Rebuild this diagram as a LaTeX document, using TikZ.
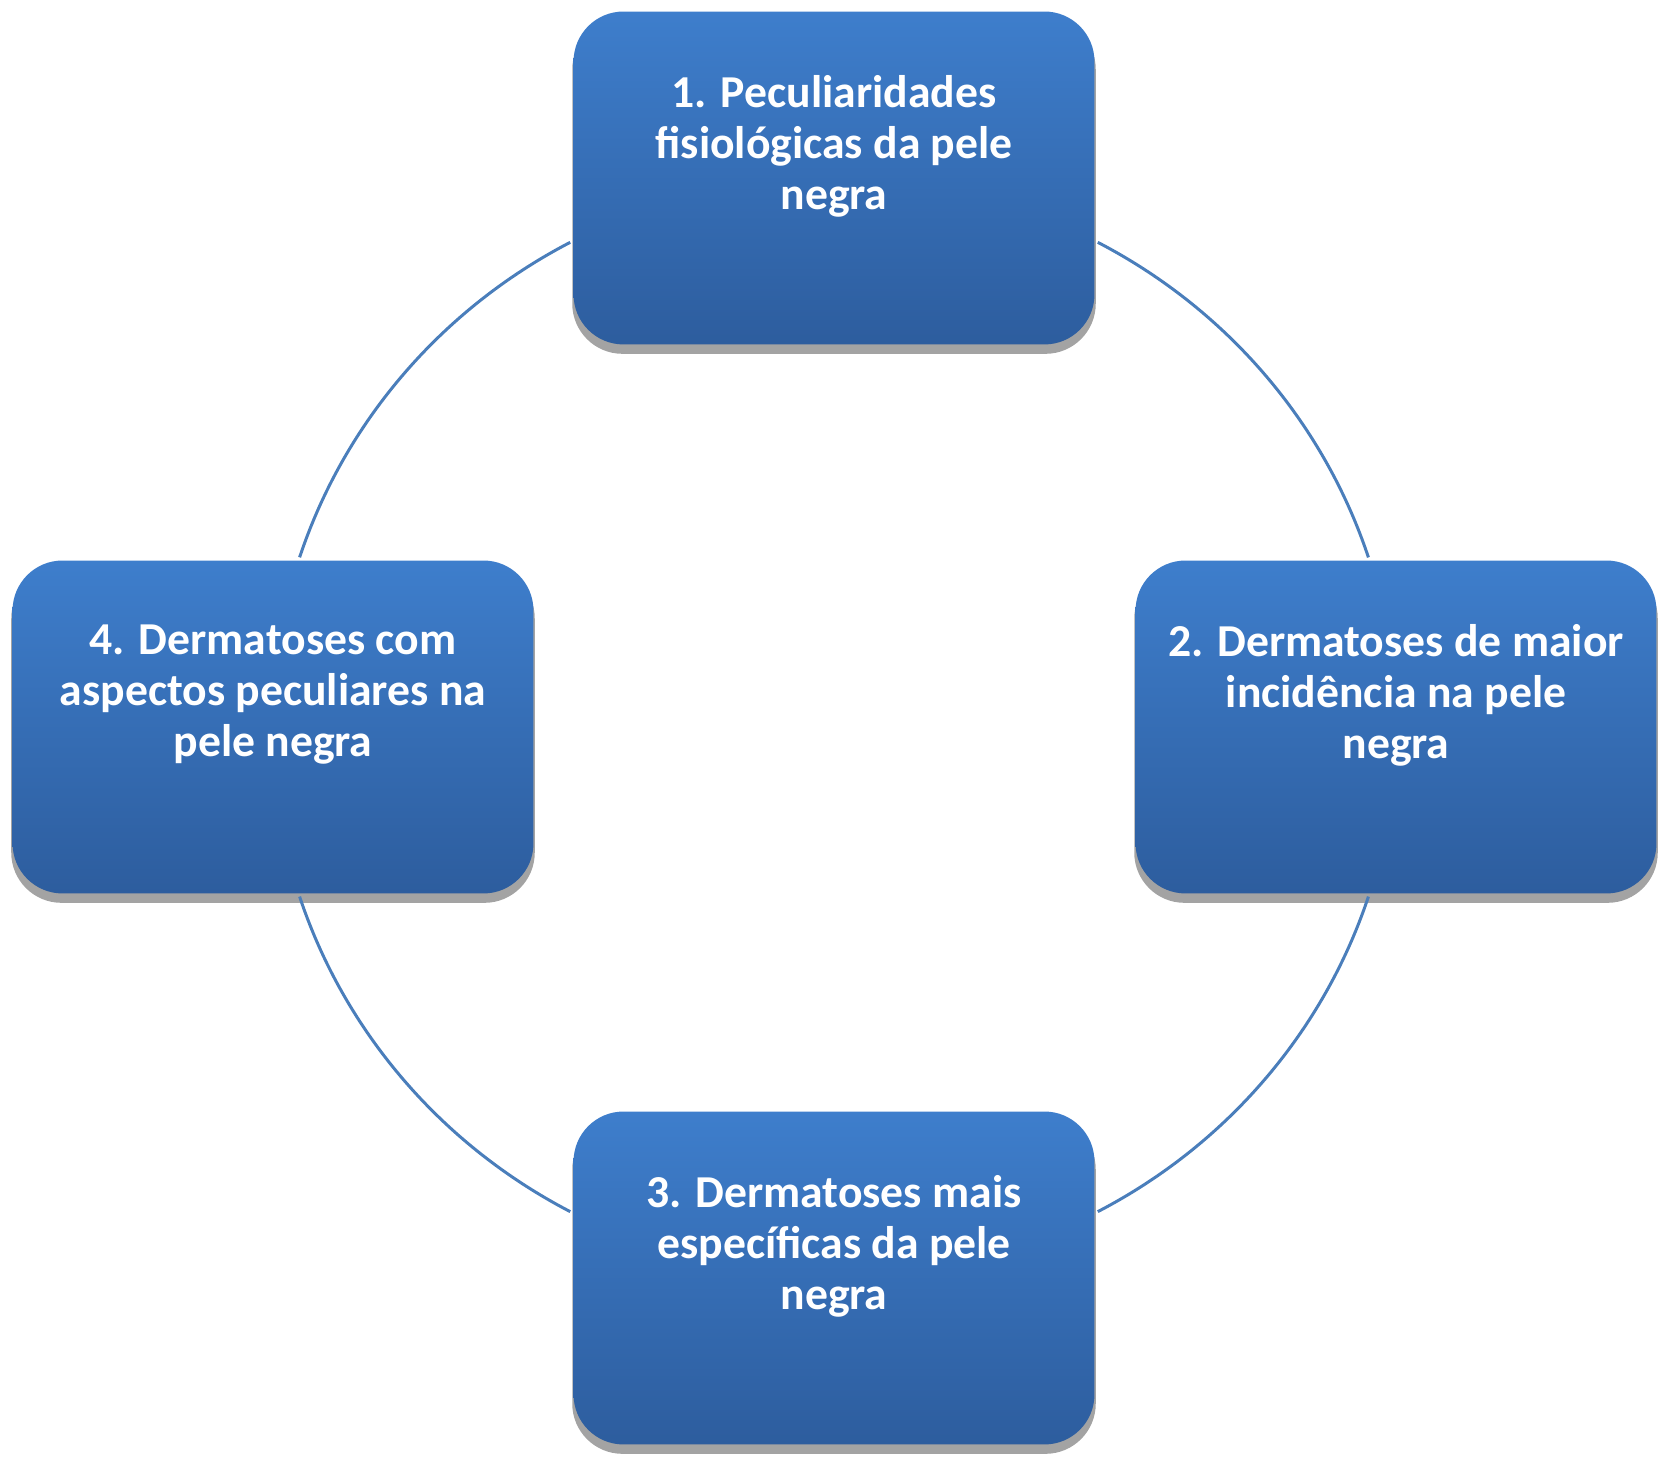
\documentclass[tikz,border=0pt]{standalone}
\usepackage{fontspec}
\setmainfont{Carlito}
\usetikzlibrary{shadows,calc}
\definecolor{boxtop}{RGB}{62,126,204}
\definecolor{boxbot}{RGB}{45,93,158}
\definecolor{ringc}{RGB}{74,126,187}
\tikzset{
  x=0.02cm, y=0.02cm,
  cyclebox/.style={rounded corners=1cm, minimum width=10.42cm, minimum height=6.66cm,
    top color=boxtop, bottom color=boxbot, draw=none,
    drop shadow={shadow xshift=0cm, shadow yshift=-0.17cm, shadow scale=1.005, fill=black!45, opacity=0.8}},
  boxtext/.style={text=white, align=center, font=\bfseries\fontsize{26}{29}\selectfont},
  ring/.style={draw=ringc, line width=1.7pt}
}
\begin{document}
\begin{tikzpicture}
\useasboundingbox (0,0) rectangle (1675,1462);
\coordinate (c) at (834,735);
\node[cyclebox] (b1) at (834,1284) {};
\node[cyclebox] (b2) at (1396,735) {};
\node[cyclebox] (b3) at (834,184) {};
\node[cyclebox] (b4) at (273,735) {};
\node[boxtext] (t1) at ($(b1.center)+(0,32)$) {1. Peculiaridades\\fisiológicas da pele\\negra};
\node[boxtext] (t2) at ($(b2.center)+(0,32)$) {2. Dermatoses de maior\\incidência na pele\\negra};
\node[boxtext] (t3) at ($(b3.center)+(0,32)$) {3. Dermatoses mais\\específicas da pele\\negra};
\node[boxtext] (t4) at ($(b4.center)+(0,32)$) {4. Dermatoses com\\aspectos peculiares na\\pele negra};
\foreach \s/\e in {62/18, 162/118, 242/198, 342/298}{
  \draw[ring] ($(c)+(\s:11.24cm and 10.98cm)$) arc[start angle=\s, end angle=\e, x radius=11.24cm, y radius=10.98cm];
}
\end{tikzpicture}
\end{document}
